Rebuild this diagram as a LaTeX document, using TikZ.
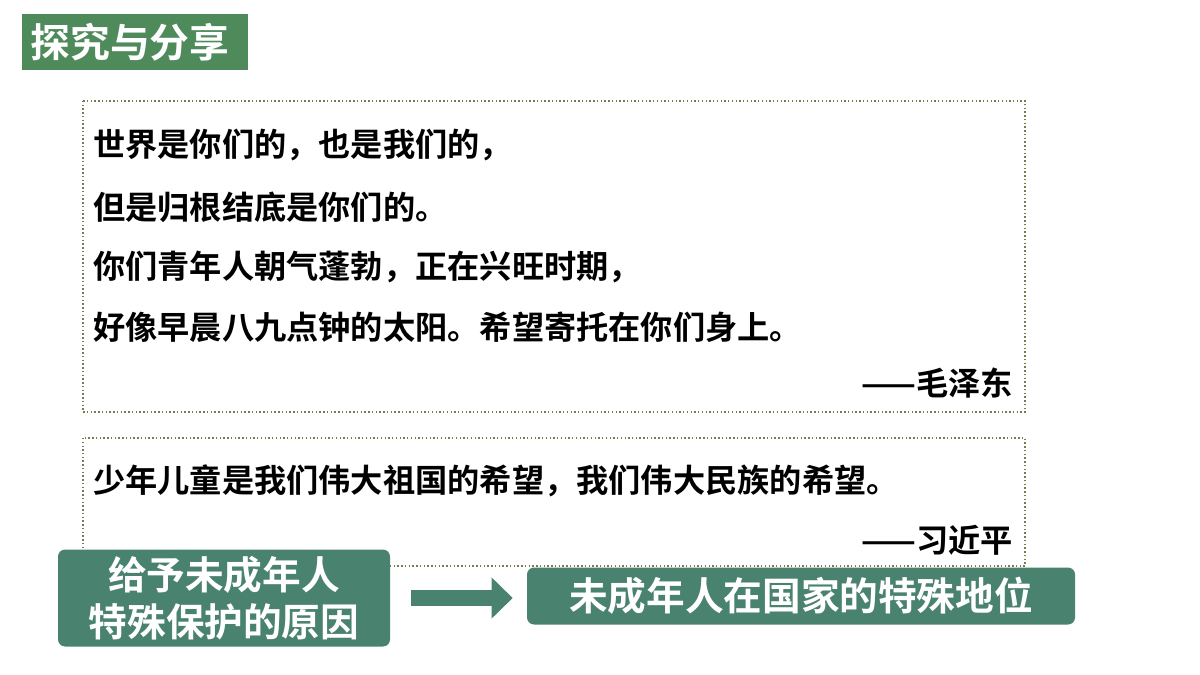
\documentclass[tikz,border=0pt]{standalone}
\usepackage{fontspec}
\newfontfamily\cjkb[BoldFont={* Bold}]{Noto Sans CJK SC}
\usetikzlibrary{positioning,arrows.meta}
\definecolor{titlegreen}{HTML}{4F8A5B}
\definecolor{boxgreen}{HTML}{4A8270}
\definecolor{dotline}{HTML}{7A7A50}
\tikzset{
  quotebox/.style={draw=dotline, line width=1.2pt, dotted},
  quoteline/.style={anchor=west, inner sep=0pt, font=\cjkb\bfseries\fontsize{27.5}{27.5}\selectfont},
  author/.style={anchor=east, inner sep=0pt, font=\cjkb\bfseries\fontsize{27.5}{27.5}\selectfont},
  greenbox/.style={fill=boxgreen, rounded corners=6pt, text=white, align=center,
    font=\cjkb\bfseries\fontsize{33}{40}\selectfont}
}
\begin{document}
\begin{tikzpicture}[x=0.03cm, y=-0.03cm]
    \useasboundingbox[fill=white] (0,0) rectangle (1200,675);
    % title tag
    \fill[titlegreen] (22,14) rectangle (248,70);
    \node[text=white, font=\cjkb\bfseries\fontsize{34}{34}\selectfont] (title) at (130,42) {探究与分享};
    % first quotation
    \draw[quotebox] (83,101) rectangle (1025,412);
    \node[quoteline] (maoa) at (93,145) {世界是你们的，也是我们的，};
    \node[quoteline] (maob) at (93,207) {但是归根结底是你们的。};
    \node[quoteline] (maoc) at (93,267) {你们青年人朝气蓬勃，正在兴旺时期，};
    \node[quoteline] (maod) at (93,327) {好像早晨八九点钟的太阳。希望寄托在你们身上。};
    \node[author] (mao) at (1013,383) {——毛泽东};
    % second quotation
    \draw[quotebox] (83,438) rectangle (1025,566);
    \node[quoteline] (xia) at (93,481) {少年儿童是我们伟大祖国的希望，我们伟大民族的希望。};
    \node[author] (xi) at (1013,540) {——习近平};
    % conclusion
    \node[greenbox, minimum width=332*0.03cm, minimum height=97*0.03cm] (reason) at (224,598) {给予未成年人\\特殊保护的原因};
    \node[greenbox, minimum width=548*0.03cm, minimum height=57*0.03cm] (status) at (801,596) {未成年人在国家的特殊地位};
    \draw[boxgreen, line width=13pt, -{Triangle[length=18pt,width=34pt]}] ([xshift=18pt]reason.east) -- ([xshift=-12pt]reason.east -| status.west);
\end{tikzpicture}
\end{document}
